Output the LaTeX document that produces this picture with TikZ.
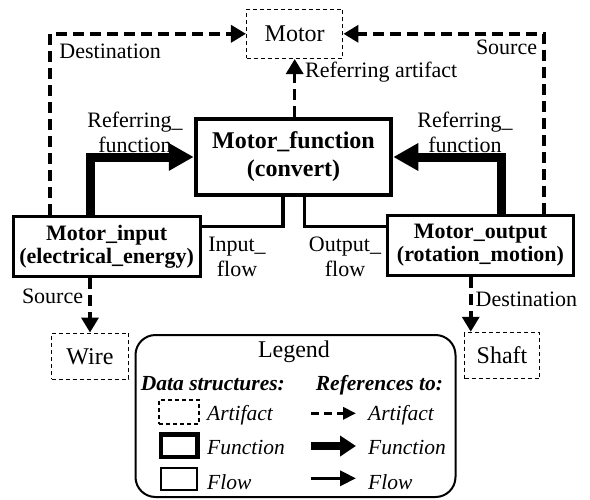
\documentclass[tikz,border=0pt]{standalone}
\usepackage{fontspec}
\setmainfont{Liberation Serif}
\usetikzlibrary{arrows.meta,calc}
\begin{document}
\begin{tikzpicture}[x=1pt,y=-1pt,
  lab/.style={font=\fontsize{22}{25}\selectfont, inner sep=0pt, align=center},
  leglab/.style={font=\itshape\fontsize{21.5}{25}\selectfont, inner sep=0pt},
  leghead/.style={font=\bfseries\itshape\fontsize{21.5}{25}\selectfont, inner sep=0pt},
  artbox/.style={draw, dash pattern=on 4pt off 3pt, line width=1.5pt, inner sep=0pt, font=\fontsize{24}{28}\selectfont},
  funcbox/.style={draw, line width=4.5pt, inner sep=0pt, align=center, font=\bfseries\fontsize{24}{28}\selectfont},
  flowbox/.style={draw, line width=3pt, inner sep=0pt, align=center, font=\bfseries\fontsize{22}{23}\selectfont},
  artref/.style={line width=3.5pt, dash pattern=on 11pt off 6pt, -{Triangle[length=15pt,width=17pt]}},
  funcref/.style={line width=9pt, -{Triangle[length=25pt,width=26pt]}},
  flowref/.style={line width=3.5pt},
  legart/.style={line width=3.5pt, dash pattern=on 8pt off 5pt, -{Triangle[length=13pt,width=12pt]}},
  legfunc/.style={line width=8pt, -{Triangle[length=16pt,width=20pt]}},
  legflow/.style={line width=3.5pt, -{Triangle[length=16pt,width=15pt]}},
]
\useasboundingbox (0,0) rectangle (590,499);

% artifacts
\node[artbox, minimum width=96pt, minimum height=49pt] (motor) at (294.7,33.8) {Motor};
\node[artbox, minimum width=77pt, minimum height=46pt] (wire) at (90,356.3) {Wire};
\node[artbox, minimum width=75pt, minimum height=46pt] (shaft) at (502,355.5) {Shaft};

% function
\node[funcbox, minimum width=195pt, minimum height=76pt] (func) at (293.5,157) {Motor\_function\\(convert)};

% flows
\node[flowbox, minimum width=187pt, minimum height=60pt] (inp) at (106.7,246.5) {Motor\_input\\(electrical\_energy)};
\node[flowbox, minimum width=186pt, minimum height=60pt] (outp) at (480.5,245.5) {Motor\_output\\(rotation\_motion)};

% artifact references
\draw[artref] ([xshift=38.5pt]inp.north west) |- (motor.west);
\draw[artref] ([xshift=-30.8pt]outp.north east) |- (motor.east);
\draw[artref] (motor.south |- func.north) -- (motor.south);
\draw[artref] (wire.north |- inp.south) -- (wire.north);
\coordinate (shin) at ([xshift=7pt]shaft.north west);
\draw[artref] (shin |- outp.south) -- (shin);

% function references
\draw[funcref] ([xshift=78.5pt]inp.north west) |- (func.west);
\draw[funcref] ([xshift=115pt]outp.north west) |- (func.east);

% flow references
\draw[flowref] ([xshift=89pt]func.south west) |- ([yshift=-11.5pt]inp.north east);
\draw[flowref] ([xshift=110.7pt]func.south west) |- ([yshift=-12.5pt]outp.north west);

% labels
\node[lab, anchor=base west] (ldest1) at (59.3,58.3) {Destination};
\node[lab, anchor=base east] (lsrc1) at (537.3,54) {Source};
\node[lab, anchor=base west] (lra) at (305,77) {Referring artifact};
\node[lab] (lrf1) at (135,132.5) {Referring\_\\function};
\node[lab] (lrf2) at (465,132.5) {Referring\_\\function};
\node[lab] (lin) at (237,256.5) {Input\_\\flow};
\node[lab] (lout) at (345,256.5) {Output\_\\flow};
\node[lab, anchor=base east] (lsrc2) at (83.3,303.3) {Source};
\node[lab, anchor=base west] (ldest2) at (475.5,306.7) {Destination};

% legend
\node[draw, rounded corners=20pt, line width=2pt, minimum width=320pt, minimum height=162pt, inner sep=0pt] (legend) at (295.5,416) {};
\node[font=\fontsize{24}{28}\selectfont, inner sep=0pt, anchor=base] (legt) at (294,357) {Legend};
\node[leghead, anchor=base west] (legds) at (140.7,390) {Data structures:};
\node[leghead, anchor=base west] (legrt) at (315.7,390) {References to:};

\node[artbox, minimum width=40pt, minimum height=24pt] (lgart) at (179,412) {};
\node[funcbox, minimum width=36.5pt, minimum height=22.5pt] (lgfunc) at (179,445.5) {};
\node[draw, line width=2pt, inner sep=0pt, minimum width=36pt, minimum height=22pt] (lgflow) at (179,479) {};
\node[leglab, anchor=base west] (lgl1) at (207,420) {Artifact};
\node[leglab, anchor=base west] (lgl2) at (207,454.3) {Function};
\node[leglab, anchor=base west] (lgl3) at (207,489.3) {Flow};

\coordinate (la1) at (311,413.3); \coordinate (lb1) at (356,413.3);
\coordinate (la2) at (311,446); \coordinate (lb2) at (356,446);
\coordinate (la3) at (311,478.3); \coordinate (lb3) at (356,478.3);
\draw[legart] (la1) -- (lb1);
\draw[legfunc] (la2) -- (lb2);
\draw[legflow] (la3) -- (lb3);
\node[leglab, anchor=base west] (lgr1) at (368,420) {Artifact};
\node[leglab, anchor=base west] (lgr2) at (368,454.3) {Function};
\node[leglab, anchor=base west] (lgr3) at (368,489.3) {Flow};
\end{tikzpicture}
\end{document}
